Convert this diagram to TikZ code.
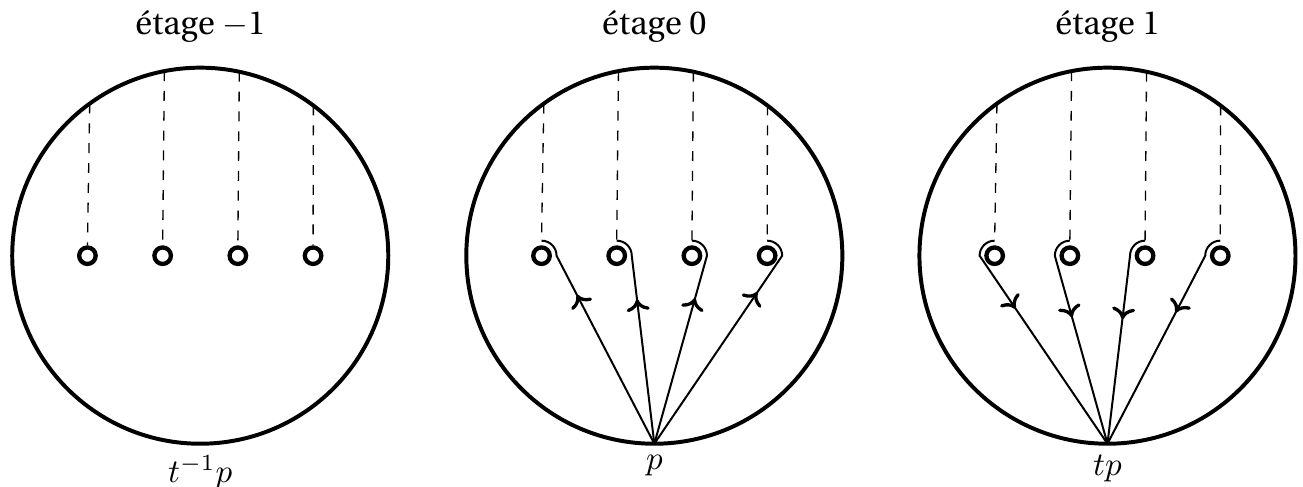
\documentclass[tikz,border=0pt]{standalone}
\usepackage[T1]{fontenc}
\renewcommand{\rmdefault}{put}
\usetikzlibrary{arrows.meta, calc, decorations.markings}

\begin{document}
\begin{tikzpicture}[
  disk/.style={draw, circle, very thick, minimum size=4cm, inner sep=0pt, outer sep=0pt},
  hole/.style={draw, circle, line width=1.3pt, minimum size=5pt, inner sep=0pt},
  cut/.style={dashed},
  rise/.style={postaction={decorate}, decoration={markings,
      mark=at position -0.72cm with {\arrow[line width=1pt]{To[length=3.5pt, width=7pt]}}}},
  fall/.style={postaction={decorate}, decoration={markings,
      mark=at position 0.93cm with {\arrow[line width=1pt]{To[length=3.5pt, width=7pt]}}}},
]
  \useasboundingbox (0,0) rectangle (13.86,5.17);

  % the three floors
  \node[disk] (disk1) at (2.13,2.45) {};
  \node[disk] (disk2) at (6.96,2.45) {};
  \node[disk] (disk3) at (11.78,2.45) {};

  \node[anchor=base] (title1) at ($(disk1.center)+(0,2.35)$) {étage $-$1};
  \node[anchor=base] (title2) at ($(disk2.center)+(0,2.35)$) {étage 0};
  \node[anchor=base] (title3) at ($(disk3.center)+(0,2.35)$) {étage 1};

  \node[below] (base1) at (disk1.south) {$t^{-1}p$};
  \node[below] (base2) at (disk2.south) {$p$};
  \node[below] (base3) at (disk3.south) {$tp$};

  % punctures with their cuts
  \foreach \x [count=\i, evaluate=\x as \a using {acos(\x/2)}] in {-1.2,-0.4,0.4,1.2} {
    \node[hole] (h1\i) at ($(disk1.center)+(\x,0)$) {};
    \node[hole] (h2\i) at ($(disk2.center)+(\x,0)$) {};
    \node[hole] (h3\i) at ($(disk3.center)+(\x,0)$) {};

    \draw[cut] (disk1.\a) -- (h1\i.north);

    % loops from p, turning round the right side
    \draw[rise, semithick] (disk2.south) -- ($(h2\i)+(0.16,0)$)
      arc[start angle=0, end angle=90, radius=0.16] coordinate (top2\i);
    \draw[cut] (disk2.\a) -- (top2\i);

    % loops to tp, turning round the left side
    \coordinate (top3\i) at ($(h3\i)+(0,0.16)$);
    \draw[fall, semithick] (top3\i) arc[start angle=90, end angle=180, radius=0.16] -- (disk3.south);
    \draw[cut] (disk3.\a) -- (top3\i);
  }
\end{tikzpicture}
\end{document}
